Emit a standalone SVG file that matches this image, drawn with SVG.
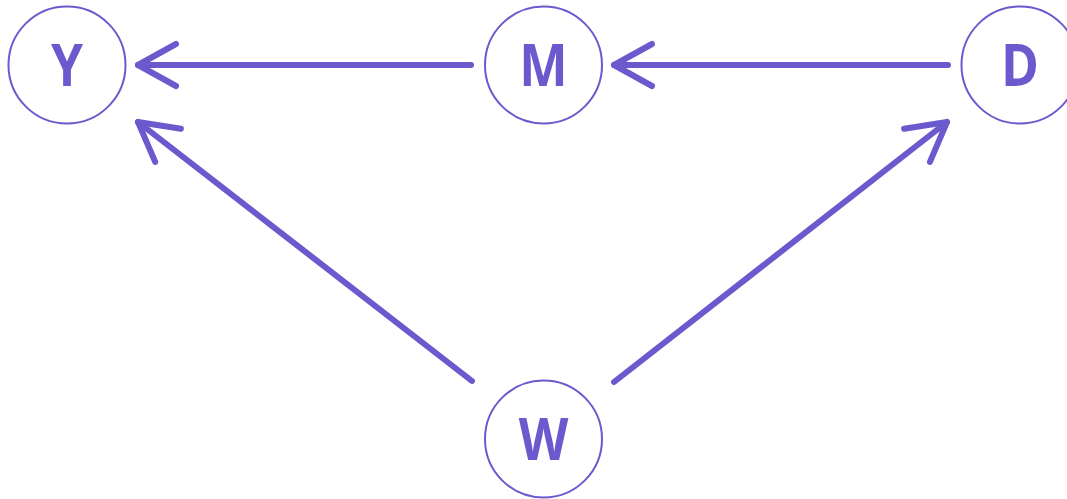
<svg xmlns="http://www.w3.org/2000/svg" width="1067" height="499" viewBox="0 0 1067 499">
<defs>
<style>
.node circle{fill:#fff;stroke:#6a5acd;stroke-width:2}
.node text{font-family:"Open Sans","Noto Sans","Liberation Sans",sans-serif;font-weight:bold;font-size:59px;fill:#6a5acd;text-anchor:middle}
.edge{fill:none;stroke:#6a5acd;stroke-width:6;stroke-linecap:round;stroke-linejoin:round}
</style>
<marker id="arr" markerUnits="userSpaceOnUse" orient="auto" markerWidth="60" markerHeight="60" refX="0" refY="0" viewBox="-50 -30 60 60" overflow="visible">
<path d="M-38,-21 L0,0 L-38,21" fill="none" stroke="#6a5acd" stroke-width="6" stroke-linecap="round" stroke-linejoin="round"/>
</marker>
</defs>
<rect width="1067" height="499" fill="#fff"/>
<g id="connectors">
<path class="edge" d="M471,65 L138,65" marker-end="url(#arr)"/>
<path class="edge" d="M948,65 L614,65" marker-end="url(#arr)"/>
<path class="edge" d="M472,381 L138,122" marker-end="url(#arr)"/>
<path class="edge" d="M614,382 L947,122" marker-end="url(#arr)"/>
</g>
<g id="node-Y" class="node"><circle cx="67" cy="65" r="58.5"/><text transform="translate(67,85.5) scale(0.87,1)">Y</text></g>
<g id="node-M" class="node"><circle cx="543.5" cy="65" r="58.5"/><text transform="translate(543.5,85.5) scale(0.87,1)">M</text></g>
<g id="node-D" class="node"><circle cx="1020" cy="65" r="58.5"/><text transform="translate(1020,85.5) scale(0.87,1)">D</text></g>
<g id="node-W" class="node"><circle cx="543.5" cy="439" r="58.5"/><text transform="translate(543.5,459.5) scale(0.87,1)">W</text></g>
</svg>
